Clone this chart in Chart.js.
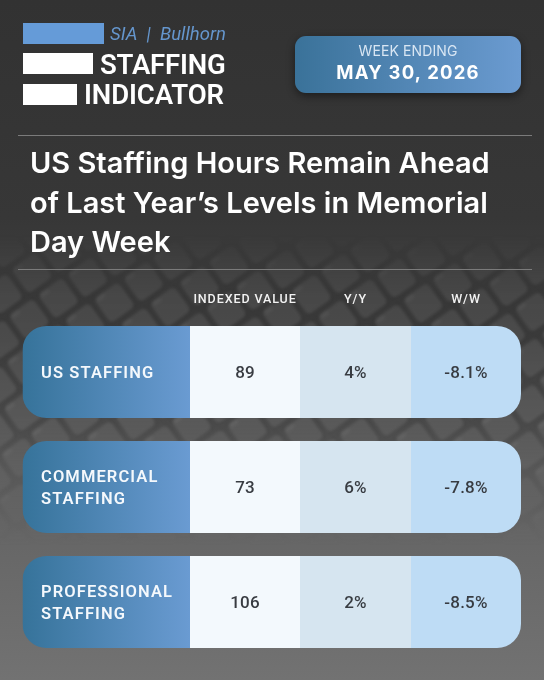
<!DOCTYPE html>
<html>
<head>
<meta charset="utf-8">
<title>Staffing Indicator</title>
<script src="https://cdn.jsdelivr.net/npm/chart.js@4"></script>
<style>
    html, body { margin: 0; padding: 0; background: #333; }
    #page { position: relative; width: 544px; height: 680px; overflow: hidden; color: #fff; font-family: Roboto, sans-serif; }
    #page canvas { position: absolute; left: 0; top: 0; }
    .bar { position: absolute; left: 22.5px; }
    .logo { position: absolute; white-space: nowrap; line-height: 1; }
    .rule { position: absolute; left: 18px; width: 514px; height: 1.5px; background: #7b7b7b; }
    #badge { position: absolute; left: 295px; top: 36px; width: 226px; height: 57px; border-radius: 11px;
        background: linear-gradient(90deg, #3a7299, #6b9bd1); box-shadow: 0 3px 9px rgba(0,0,0,.45); text-align: center; }
    #badge .small { position: absolute; left: 0; right: 0; top: 7px; font: 400 14px/16px Inter, sans-serif; letter-spacing: .1px; color: #d9e6f3; }
    #badge .big { position: absolute; left: 0; right: 0; top: 25px; font: 700 18.5px/22px Inter, sans-serif; letter-spacing: 1.2px; }
    h1 { position: absolute; left: 30px; top: 143px; margin: 0; font: 600 29px/39.5px Inter, sans-serif; white-space: nowrap; }
</style>
</head>
<body>
<div id="page">
    <canvas id="backdrop" width="544" height="680"></canvas>

    <div class="bar" style="top:23px;width:81px;height:21px;background:#659bd8"></div>
    <div class="bar" style="top:53px;width:70px;height:21px;background:#fff"></div>
    <div class="bar" style="top:84px;width:54px;height:21px;background:#fff"></div>
    <div class="logo" style="left:110px;top:24px;font:italic 400 18.5px/20px Roboto,sans-serif;color:#6596cd">SIA&nbsp;&nbsp;|&nbsp;&nbsp;Bullhorn</div>
    <div class="logo" style="left:100px;top:52px;font:600 27.5px/26px Roboto,sans-serif;letter-spacing:-.2px">STAFFING</div>
    <div class="logo" style="left:84px;top:82px;font:600 27.5px/26px Roboto,sans-serif;letter-spacing:-.1px">INDICATOR</div>

    <div id="badge">
        <div class="small">WEEK ENDING</div>
        <div class="big">MAY 30, 2026</div>
    </div>

    <div class="rule" style="top:134.5px"></div>
    <h1>US Staffing Hours Remain Ahead<br>of Last Year’s Levels in Memorial<br>Day Week</h1>
    <div class="rule" style="top:268.5px"></div>

    <canvas id="indicatorTable" width="544" height="680"></canvas>
</div>

<script>
// table contents
const rowLabels = [['US STAFFING'], ['COMMERCIAL', 'STAFFING'], ['PROFESSIONAL', 'STAFFING']];
const columnHeaders = ['INDEXED VALUE', 'Y/Y', 'W/W'];
const indexedValues = [89, 73, 106];
const yoyValues = [4, 6, 2];
const wowValues = [-8.1, -7.8, -8.5];

// column widths, the stacked bars use them as their length
const columnWidths = [167.5, 110, 111, 110];
const totalWidth = columnWidths.reduce((a, b) => a + b, 0);

const columnText = [
    rowLabels,
    indexedValues.map(v => String(v)),
    yoyValues.map(v => v + '%'),
    wowValues.map(v => v + '%')
];

drawBackdrop();

function drawBackdrop() {
    const ctx = document.getElementById('backdrop').getContext('2d');
    const base = ctx.createLinearGradient(0, 0, 0, 680);
    base.addColorStop(0, '#323232');
    base.addColorStop(0.32, '#373737');
    base.addColorStop(0.5, '#444444');
    base.addColorStop(0.68, '#606060');
    base.addColorStop(1, '#727272');
    ctx.fillStyle = base;
    ctx.fillRect(0, 0, 544, 680);

    // keyboard photo behind the table
    const layer = document.createElement('canvas');
    layer.width = 544;
    layer.height = 680;
    const k = layer.getContext('2d');
    k.filter = 'blur(1.5px)';
    k.translate(200, 400);
    k.rotate(-0.62);
    for (let row = -14; row < 14; row++) {
        for (let col = -14; col < 14; col++) {
            const x = col * 36 + row * 7;
            const y = row * 36;
            k.fillStyle = 'rgba(0,0,0,.35)';
            k.fillRect(x - 3, y - 3, 36, 36);
            k.fillStyle = 'rgba(125,125,125,.5)';
            k.beginPath();
            k.roundRect(x, y, 30, 30, 5);
            k.fill();
            k.fillStyle = 'rgba(170,170,170,.22)';
            k.beginPath();
            k.roundRect(x + 2, y + 1, 10, 4, 2);
            k.fill();
        }
    }
    k.setTransform(1, 0, 0, 1, 0, 0);
    k.filter = 'none';
    const mask = k.createLinearGradient(0, 235, 0, 545);
    mask.addColorStop(0, 'rgba(0,0,0,0)');
    mask.addColorStop(0.2, 'rgba(0,0,0,.4)');
    mask.addColorStop(0.6, 'rgba(0,0,0,.5)');
    mask.addColorStop(1, 'rgba(0,0,0,0)');
    k.globalCompositeOperation = 'destination-in';
    k.fillStyle = mask;
    k.fillRect(0, 0, 544, 680);
    ctx.drawImage(layer, 0, 0);
}

const cellLabels = {
    id: 'cellLabels',
    beforeDraw(chart) {
        // the header ticks are drawn with this spacing
        chart.ctx.letterSpacing = '0.9px';
    },
    afterDatasetsDraw(chart) {
        const ctx = chart.ctx;
        ctx.save();
        ctx.textBaseline = 'middle';
        chart.data.datasets.forEach((dataset, c) => {
            chart.getDatasetMeta(c).data.forEach((bar, r) => {
                if (c === 0) {
                    const lines = columnText[0][r];
                    ctx.font = '600 16.5px Roboto, sans-serif';
                    ctx.letterSpacing = '1.1px';
                    ctx.fillStyle = '#f4f8fc';
                    ctx.textAlign = 'left';
                    lines.forEach((line, i) => {
                        ctx.fillText(line, bar.base + 18.5, bar.y + 2 + (i - (lines.length - 1) / 2) * 21.5);
                    });
                } else {
                    ctx.font = '500 17px Roboto, sans-serif';
                    ctx.letterSpacing = '0.2px';
                    ctx.fillStyle = '#383c42';
                    ctx.textAlign = 'center';
                    ctx.fillText(columnText[c][r], (bar.base + bar.x) / 2, bar.y + 2);
                }
            });
        });
        ctx.restore();
    }
};

function leftGradient(context) {
    const chart = context.chart;
    if (!chart.chartArea) return '#4f87b5';
    const left = chart.chartArea.left;
    const right = chart.scales.x.getPixelForValue(columnWidths[0]);
    const g = chart.ctx.createLinearGradient(left, 0, right, 0);
    g.addColorStop(0, '#36739a');
    g.addColorStop(1, '#6a9bd2');
    return g;
}

const cellColors = [leftGradient, '#f3f9fd', '#d6e5f0', '#bedcf5'];
const cellRadius = [
    { topLeft: 24, bottomLeft: 24, topRight: 0, bottomRight: 0 },
    0,
    0,
    { topLeft: 0, bottomLeft: 0, topRight: 24, bottomRight: 24 }
];

const indicatorChart = new Chart(document.getElementById('indicatorTable').getContext('2d'), {
    type: 'bar',
    data: {
        labels: rowLabels.map(l => l.join(' ')),
        datasets: columnWidths.map((width, c) => ({
            data: rowLabels.map(() => width),
            backgroundColor: cellColors[c],
            borderRadius: cellRadius[c],
            borderSkipped: false,
            borderWidth: 0,
            inflateAmount: 0
        }))
    },
    options: {
        indexAxis: 'y',
        responsive: false,
        animation: false,
        layout: { padding: { left: 22.5, right: 23, top: 284.5, bottom: 20.5 } },
        categoryPercentage: 0.8,
        barPercentage: 1,
        plugins: {
            legend: { display: false },
            title: { display: false },
            tooltip: { enabled: false }
        },
        scales: {
            y: { display: false, stacked: true },
            x: {
                stacked: true,
                position: 'top',
                min: 0,
                max: totalWidth,
                grid: { display: false, tickLength: 0 },
                border: { display: false },
                afterBuildTicks(scale) {
                    let edge = columnWidths[0];
                    scale.ticks = columnWidths.slice(1).map(width => {
                        const tick = { value: edge + width / 2 };
                        edge += width;
                        return tick;
                    });
                },
                afterFit(scale) { scale.height = 30; },
                ticks: {
                    color: '#f2f2f2',
                    font: { family: 'Roboto, sans-serif', size: 12.5, weight: '500' },
                    padding: 7,
                    maxRotation: 0,
                    autoSkip: false,
                    callback: (value, index) => columnHeaders[index]
                }
            }
        }
    },
    plugins: [cellLabels]
});
</script>
</body>
</html>
